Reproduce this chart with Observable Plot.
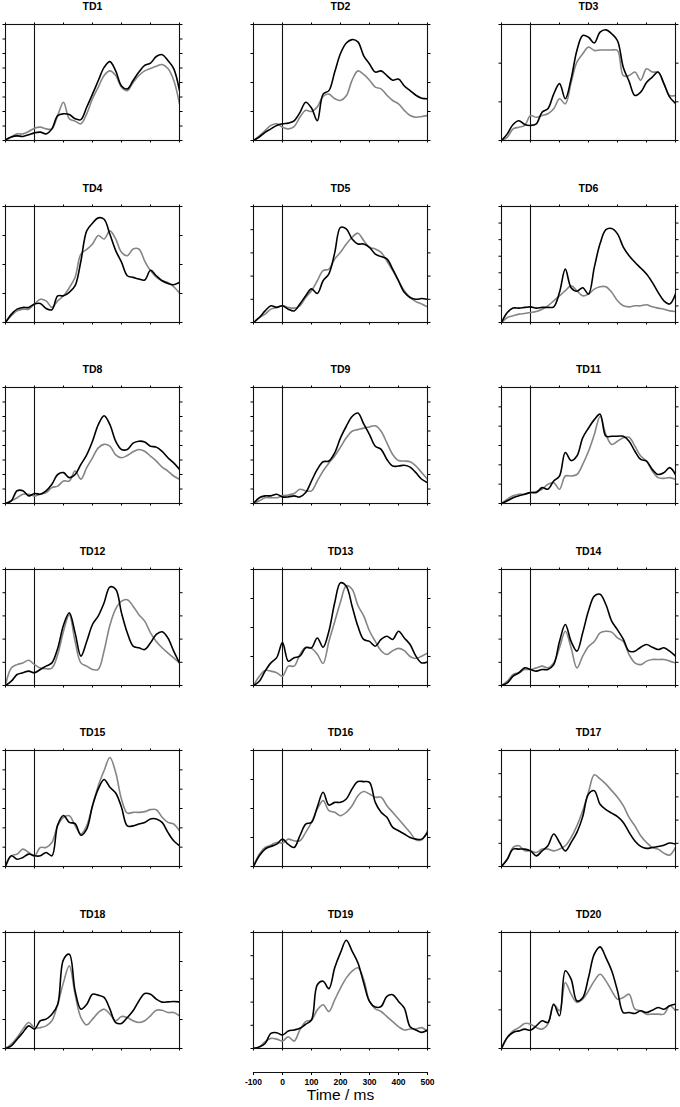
<!DOCTYPE html>
<html>
<head>
<meta charset="utf-8">
<script src="https://cdn.jsdelivr.net/npm/d3@7"></script>
<script src="https://cdn.jsdelivr.net/npm/@observablehq/plot@0.6"></script>
<style>
  html, body { margin: 0; padding: 0; background: #fff; }
  #chart { position: relative; width: 680px; height: 1107px; overflow: hidden; background: #fff; }
  #chart svg { position: absolute; overflow: visible; }
</style>
</head>
<body>
<div id="chart"></div>
<script>
// Time grid (ms)
const times = [-100,-80,-60,-40,-20,0,20,40,60,80,100,120,140,160,180,200,220,240,260,280,300,320,340,360,380,400,420,440,460,480,500];
const xTicks = [-100, 0, 100, 200, 300, 400, 500];

const panelNames = ["TD1","TD2","TD3","TD4","TD5","TD6","TD8","TD9","TD11","TD12","TD13","TD14","TD15","TD16","TD17","TD18","TD19","TD20"];
// number of y tick intervals per panel (values are % of each panel's full scale)
const yTickCounts = [8,4,3, 4,5,7, 8,8,6, 5,4,5, 6,4,5, 4,5,3];

const td1Black = [0.6,3,4,3.5,5,6.6,7.2,5.7,10,21.5,23,22.4,18.7,18,28.7,40,51.7,63,68,60,47,44.5,51.7,59,64.7,66.7,72.4,74,69,62,43];
const td1Gray  = [0,3,5.7,5.7,7.8,10.6,11.5,10,10,21.5,33,18.7,16.7,14.4,23,36,46,56,60,56,46,43,50,56,60,62,64,65.5,62,52,31.6];
const td2Black = [0,3,7,10,13,14.4,15,17,24,33,28,17,40,43,59,75,84,87,85,73,66,59,60,56,52,53,47,43,39,36.5,36];
const td2Gray  = [0,4,8.6,13,14.4,11.5,10,12,20,26,25,29,38,40,36,34.5,38.5,52,60,57,52,46,44.5,39,34.5,31.6,26,21.5,20,20.7,21.5];
const td3Black = [0,5.7,13.8,17,13.8,13,14.4,24.4,27.3,40,49,36,53,77.6,90.5,89,84,93.4,95.4,92,86,63,51,38.8,41.7,50,54.6,59,49,37.4,32];
const td3Gray  = [0,2.9,10,11.5,13,21.5,20,21.5,23,27.3,36,31.6,50,67.5,74.7,80.5,77.6,78,78,78,77.6,56,56,59,52,61.8,59,59,49,38.8,38.8];
const td4Black = [0,7,11.5,13,13,16,16.4,12,11,23,23,26,31.7,53,79,85.6,90.2,89,76,62,52,40.3,38.9,37.5,36.6,45,40.3,36,33.7,32.6,34.6];
const td4Gray  = [0,5.8,10,11.5,11.5,16,20,18.7,13,18.7,23,30,39,59,63,67.7,75,72,79,72,60.5,57.6,63.4,63.4,53,44.7,39,36,34.6,30.8,25.4];
const td5Black = [0,4.3,10,14.4,13,14.4,11.5,10,16,23,29,25,36,42,60,82,80.7,72,67.7,67.7,64.8,59,56.8,54.8,46,36,26,21.6,20,20.7,20];
const td5Gray  = [0,4.3,7.2,11.5,13,14.4,13,12.4,14.4,21.6,27.4,36,44.7,46,54.8,60.5,67.7,73.5,77,70.6,64.8,63.4,60.5,53,44.7,36,27.4,21.6,18,16,13.5];
const td6Black = [0,8.6,12.4,12.4,13,13.5,12.4,13,13,13.5,26,46,30,27,30,24.5,47.5,68,80,81,76.4,65,57.6,52,47,41.8,34.6,26,18.7,16,24.5];
const td6Gray  = [0,4.3,5.8,7.2,7.8,8.6,9.5,11.5,14.4,18.7,23,27.4,31.7,27.4,23,24.5,28.8,30.8,30.8,26,18.7,14.4,13.5,14.4,14.4,15.3,13.5,12.4,11.5,10,9.5];
const td8Black = [0,2.3,11,11,6.6,8.6,8,10.9,16.6,25,26.6,22.3,25,33.7,42,53.7,68,75.7,68,53.7,46.6,46.6,52,53.7,53,49.4,48.6,45,39.4,35,29.4];
const td8Gray  = [0,2.3,5,8,8,6.6,8,9.4,13.7,15,19.4,19.4,28,21,30.9,39.4,48,51,49.4,42,39.4,41.4,44.6,46.6,45,40.9,36.6,31.4,28,23.7,20.9];
const td9Black = [0,5,6.6,6.6,8,5.7,5.7,6.6,5.7,9.4,19.4,29.4,36,36.6,43.7,56.6,66.6,75,78,68.6,59.4,49.4,46.6,38,32.3,32.3,33,31.4,26.6,20.9,18];
const td9Gray  = [0,2.3,5,5,5,6.6,7.4,8.6,12.3,10.9,10.9,19.4,28,35,41,48.6,56.6,62.3,63.7,65,66,67,62.3,52.3,42.3,37,36.6,36,32.3,26.6,20.9];
const td11Black = [0,2.3,5,6.6,8,9.4,9.4,13.7,12.3,19.4,23.7,44,37,40.9,56.6,65,72.3,77,58,58,58,58,53.7,45,38,36.6,29.4,25,26.6,30.9,25];
const td11Gray  = [0,3.7,6.6,8,8,9.4,10.3,12.3,16.6,18,12.3,23.7,23.7,25,33.7,45,59.4,75,59.4,50.9,53.7,56.6,57.1,49.4,40.9,36.6,28,22.3,21.7,22.3,20.9];
const td12Black = [0,3.7,9.5,11,12.4,11,13.8,16.7,19.5,32,52,62.6,45.4,25.3,38,52.6,60,71.3,85,83,62.6,45.4,34,32.5,31,36.8,44,46.3,41,29.6,19.5];
const td12Gray  = [0,15,18,19.5,21.8,18,15,14.4,15,26.7,46.8,61,38,19.5,16.7,13.8,14,30,52,66,72.7,74,68.4,61,55.5,45.4,38,32.5,28,23.9,19.5];
const td13Black = [0,3.7,12.4,19.5,24,37,21,23.9,25.3,32.5,32.5,41,33,46.8,71.3,88.5,85.6,68.4,51,39.7,38,33.9,39.7,42.5,39.7,46.8,41,35.3,25.3,19.5,20.4];
const td13Gray  = [0,8,13,12.4,11,8,16.7,16.7,26.7,33,32,27,19,38,55,72,86,83,69,60,47,38,30,26.7,30,32,30,25,23.3,25.3,28];
const td14Black = [0,2.3,8,11,15.2,13.8,12.4,13.8,13.8,18,38,52.6,38,29.6,45.4,64.4,77,78.7,69.8,55.5,48,40,29.6,29.6,33,35.3,33,31,32.5,29.6,25.3];
const td14Gray  = [0,3.7,9.5,11,13.8,13.8,15.2,16.7,15.2,19.5,32.5,46.8,32.5,15.2,25.3,33.6,38,45.4,46.8,46,41,38,26.7,19.5,18,21,22.4,22.4,22.4,21,19.5];
const td15Black = [0,9.2,6.3,7.8,10.7,9.2,9.2,12.1,9.2,36,44,38,37,27,32.3,52.4,66.9,75,68.3,63.4,51,35,35,36.6,38,41,41,38,29.4,22.2,17.9];
const td15Gray  = [0,9.2,10.7,15,12.1,9.2,16.4,16.4,20.7,35.2,42.4,43.8,35.2,28,35.2,52.4,69.7,82.7,94,81,58,46,46.7,46.7,47.3,49,49,42.4,38,36.6,30.8];
const td16Black = [0,9.2,15,17.3,19.3,23.6,19,16.4,26.5,36.6,38,51.3,64,53,55.3,55.3,58.2,66.9,73.2,73.2,72.6,55.3,46.7,42.4,33.7,30.8,28,25,23.6,23.6,29.4];
const td16Gray  = [0,10.7,16.4,18.4,20.7,20.2,23.6,22.2,22.2,29.4,38,49.6,56.8,48.1,46.7,43.8,46.7,52.4,61,64.6,62.5,59.7,59.7,52.4,46.7,41,35.2,29.4,23,23,30.8];
const td17Black = [0,6.3,15,15,15,13.5,9.2,13.5,17.9,28,20.7,13.5,20.7,29.4,43,62.5,65.4,53.6,49,46,43,38,29.4,22,17.3,15.6,16.4,17.3,18.4,20.2,19.3];
const td17Gray  = [0,6.3,16.4,17.9,13.5,13.5,12.1,15,15,13.5,15,17.9,25,35,48,64,79,75.5,71,65.4,59.7,52.4,42.4,35,26.5,20.7,16.4,15,11.5,9.8,16.4];
const td18Black = [0,2.3,8,13.8,19.5,16.7,23.9,25.3,29.6,38,76.7,81.3,49.7,33.9,38,46.8,46,44,34,22.4,21.6,26.7,32.5,41,47.4,46.8,42.5,40,40.2,40.5,40.2];
const td18Gray  = [0,3.7,9.5,16.7,22.4,18,18,19.5,23.9,38.2,57,71.3,46.8,26.7,20.4,25.3,31,33.9,29.6,23.9,27.6,26.7,23.9,22.4,23.9,28.2,33,33,31,31,28.2];
const td19Black = [0,1.4,4.3,13,13.6,11.6,15,16,17.4,20.9,24.6,55,58,51.6,69.6,82.6,93.3,84,73.9,56.5,40.6,35.7,36.2,45,46.4,40.6,34.8,18.8,16,13.9,16];
const td19Gray  = [0,1.4,5.8,8.7,8.1,6.4,10.1,6.4,16,23.2,24.6,33.3,37.7,31.9,42,52,60.9,66.7,69.6,59.4,40.6,34.2,31.9,27.5,23.2,18.8,16,16.8,16.8,18,14.5];
const td20Black = [0,9.5,13.8,15.2,16.7,15.8,19.5,23.9,22.4,38.2,28.2,67,59.8,41,43.7,61.2,81.3,87.6,78.4,67,49.7,31,31,30.2,32.5,31,33,35.3,33.9,36.8,38.2];
const td20Gray  = [0,9.5,15.2,18,21.6,21,18,16.7,21,38.2,32.5,56.9,46.8,39.7,42.5,49.7,58.3,64,58.3,49.7,42.5,44,46.8,33.9,32.5,29.6,29.6,29.6,29.6,36.8,32.5];

const blackSeries = [td1Black,td2Black,td3Black,td4Black,td5Black,td6Black,td8Black,td9Black,td11Black,td12Black,td13Black,td14Black,td15Black,td16Black,td17Black,td18Black,td19Black,td20Black];
const graySeries  = [td1Gray,td2Gray,td3Gray,td4Gray,td5Gray,td6Gray,td8Gray,td9Gray,td11Gray,td12Gray,td13Gray,td14Gray,td15Gray,td16Gray,td17Gray,td18Gray,td19Gray,td20Gray];

// layout
const FONT = "'Liberation Sans', Arial, Helvetica, sans-serif";
const frameW = 174, frameH = 116;
const mL = 6, mR = 6, mT = 22, mB = 6;
const colX = [5, 252.7, 500.5];
const rowTop0 = 24, rowStep = 181.5;
const GRAY = "#858585";

const chart = document.getElementById("chart");

panelNames.forEach((name, i) => {
  const col = i % 3, row = Math.floor(i / 3);
  const n = yTickCounts[i];
  const yTicks = d3.range(n + 1).map(k => k * 100 / n);
  const black = times.map((t, j) => ({t, v: blackSeries[i][j]}));
  const gray = times.map((t, j) => ({t, v: graySeries[i][j]}));
  const svg = Plot.plot({
    width: frameW + mL + mR,
    height: frameH + mT + mB,
    marginLeft: mL, marginRight: mR, marginTop: mT, marginBottom: mB,
    style: {fontFamily: FONT, color: "black", background: "transparent", overflow: "visible"},
    x: {domain: [-100, 500], axis: null},
    y: {domain: [0, 100], axis: null},
    marks: [
      Plot.axisX({anchor: "bottom", ticks: xTicks, tickSize: 2.5, fill: "none", tickFormat: () => "", label: null}),
      Plot.axisX({anchor: "top", ticks: xTicks, tickSize: 2.5, fill: "none", tickFormat: () => "", label: null}),
      Plot.axisY({anchor: "left", ticks: yTicks, tickSize: 2.5, fill: "none", tickFormat: () => "", label: null}),
      Plot.axisY({anchor: "right", ticks: yTicks, tickSize: 2.5, fill: "none", tickFormat: () => "", label: null}),
      Plot.ruleX([0], {stroke: "#111", strokeWidth: 1.1}),
      Plot.line(gray, {x: "t", y: "v", stroke: GRAY, strokeWidth: 1.6, curve: "catmull-rom", clip: true}),
      Plot.line(black, {x: "t", y: "v", stroke: "black", strokeWidth: 1.6, curve: "catmull-rom", clip: true}),
      Plot.frame({stroke: "#111", strokeWidth: 1.1}),
      Plot.text([name], {frameAnchor: "top", dy: -14.5, lineAnchor: "bottom", fontWeight: "bold", fontSize: 10.5, fill: "black"})
    ]
  });
  svg.style.left = (colX[col] - mL) + "px";
  svg.style.top = (rowTop0 + rowStep * row - mT) + "px";
  chart.appendChild(svg);
});

// Bottom time axis under the middle bottom panel
const axisLineY = 1072.3;
const aT = 4, aB = 40;
const axisSvg = Plot.plot({
  width: frameW + mL + mR,
  height: aT + 1 + aB,
  marginLeft: mL, marginRight: mR, marginTop: aT, marginBottom: aB,
  style: {fontFamily: FONT, color: "black", background: "transparent", overflow: "visible"},
  x: {domain: [-100, 500], axis: null},
  y: {domain: [0, 1], axis: null},
  marks: [
    Plot.axisX({anchor: "bottom", ticks: xTicks, tickSize: 3, tickPadding: 3.5, fontSize: 8.5, fontWeight: "bold", label: null, tickFormat: d => String(d)}),
    Plot.frame({anchor: "bottom", stroke: "#111", strokeWidth: 1.1}),
    Plot.text(["Time / ms"], {frameAnchor: "bottom", dy: 27.5, lineAnchor: "bottom", fontSize: 15.5, fill: "black"})
  ]
});
axisSvg.style.left = (colX[1] - mL) + "px";
axisSvg.style.top = (axisLineY - aT - 1) + "px";
chart.appendChild(axisSvg);
</script>
</body>
</html>
